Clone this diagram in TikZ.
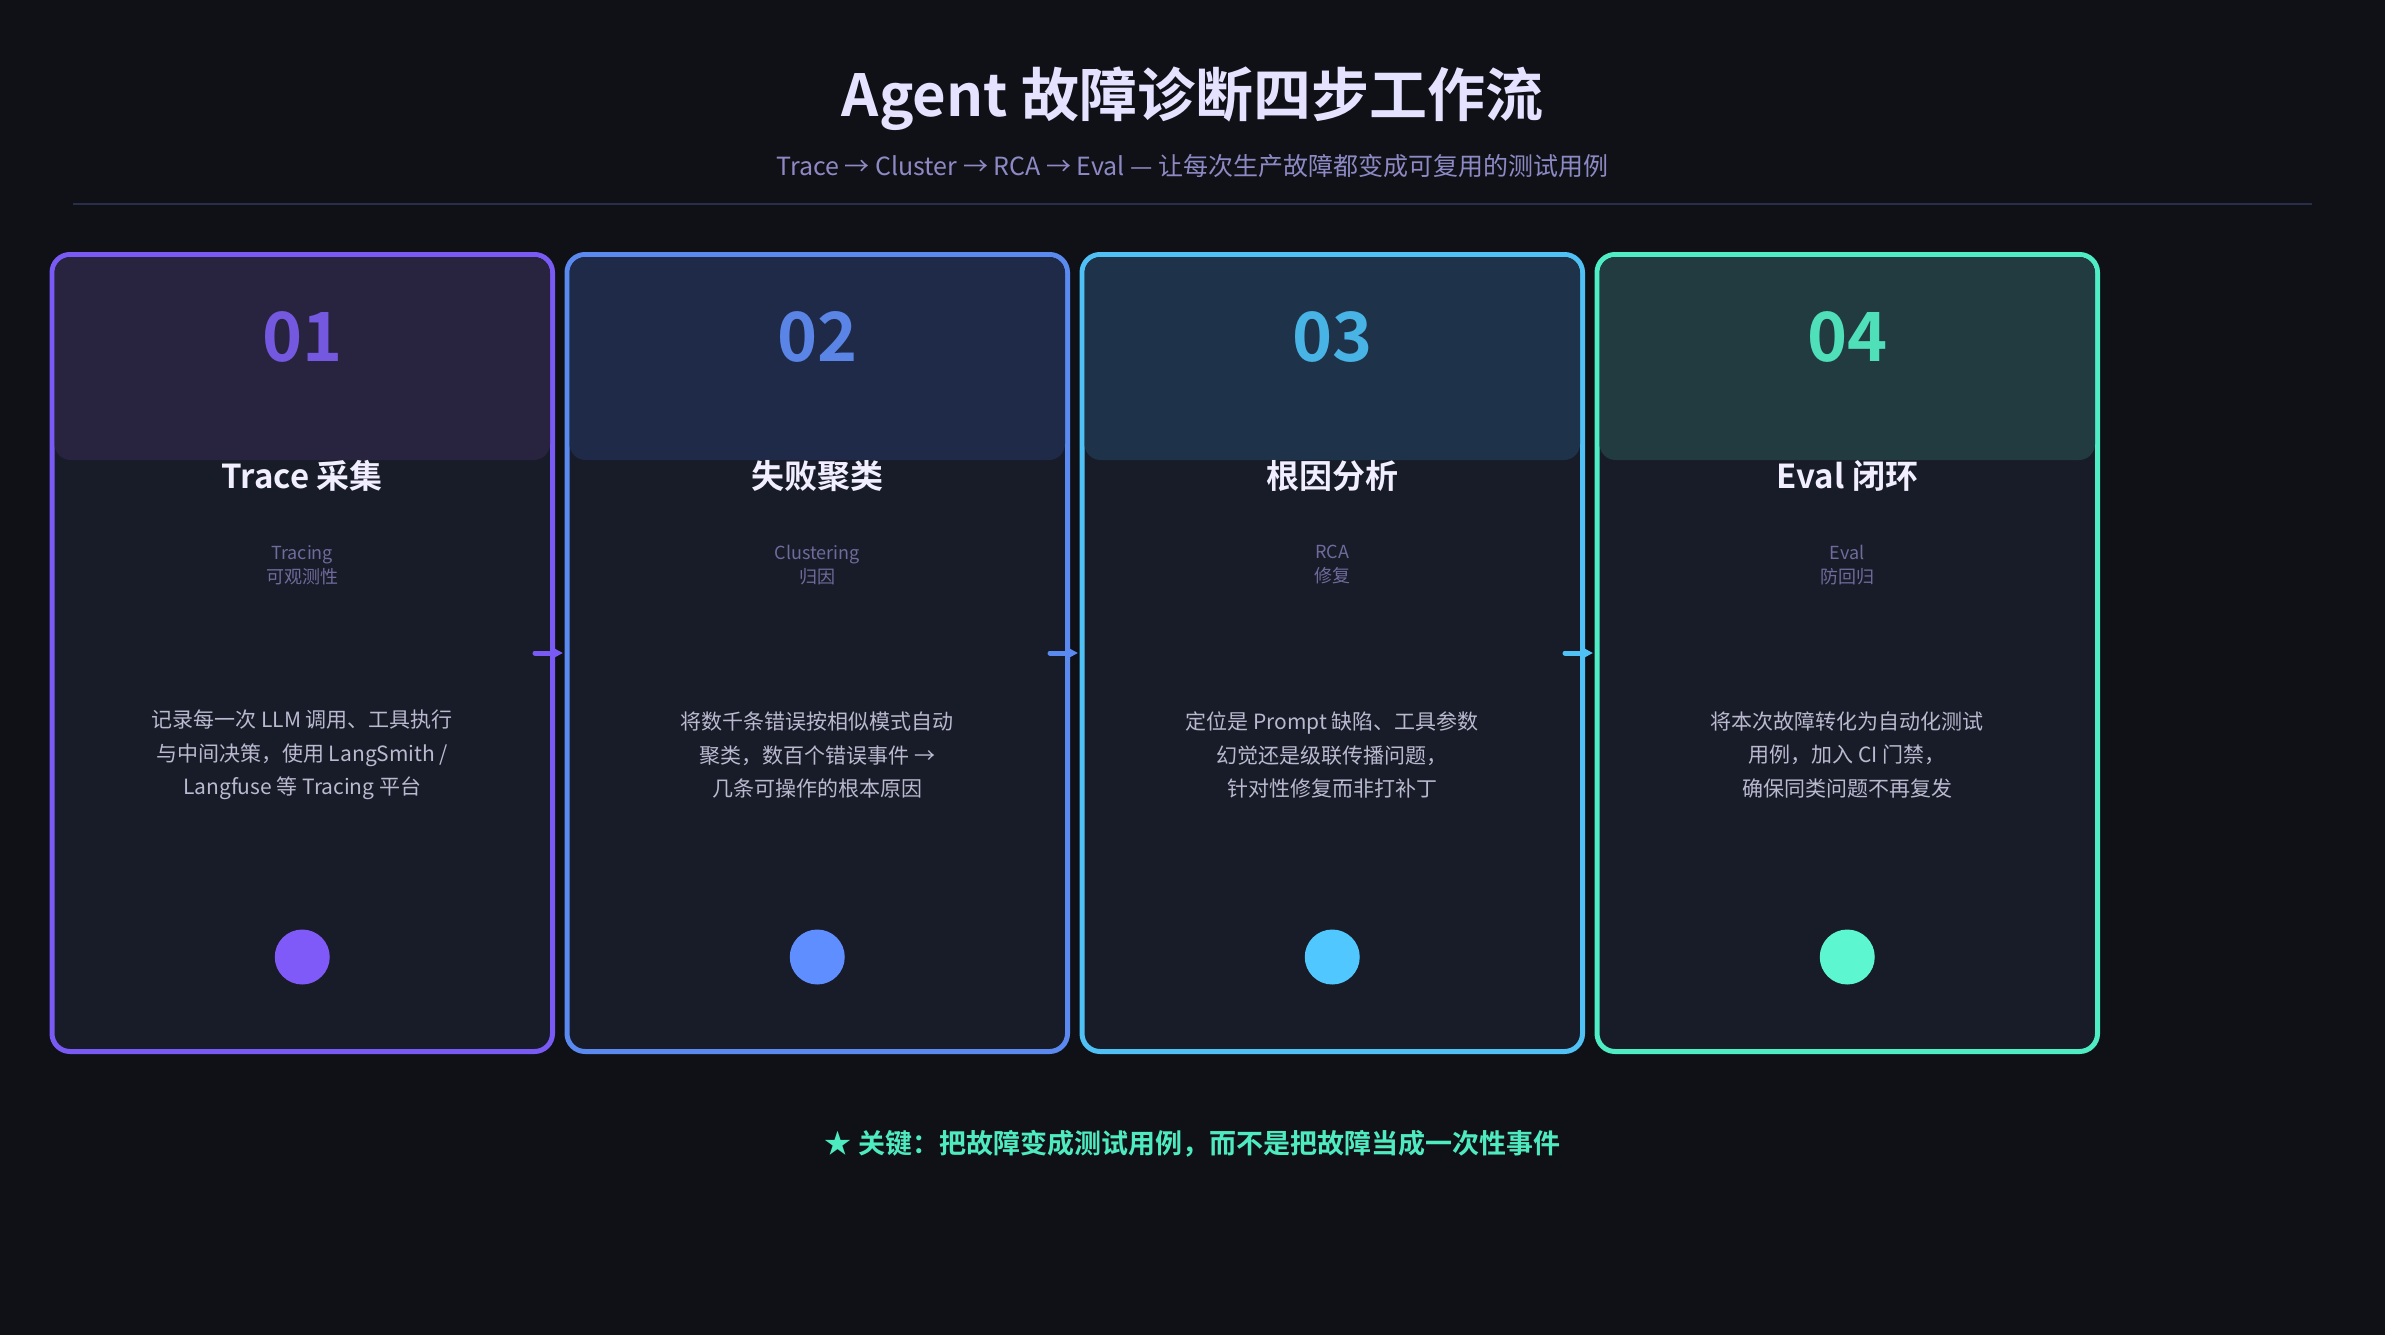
\documentclass[tikz,border=0pt]{standalone}
\usepackage{fontspec}
\setmainfont{Noto Sans CJK SC}[BoldFont={Noto Sans CJK SC Bold}]
\usetikzlibrary{arrows.meta}
\definecolor{bg}{HTML}{0F1117}
\definecolor{body}{HTML}{181B28}
\definecolor{titlec}{HTML}{E4E2FF}
\definecolor{cardtitle}{HTML}{F0EEFF}
\definecolor{subtitlec}{HTML}{8E89C4}
\definecolor{smallc}{HTML}{6F6B9C}
\definecolor{descc}{HTML}{B9B9CF}
\definecolor{rulec}{HTML}{2B2E48}
\definecolor{keyc}{HTML}{4EEBC0}
\definecolor{border1}{HTML}{7A5AF5}
\definecolor{border2}{HTML}{5A8AF0}
\definecolor{border3}{HTML}{4FC1F5}
\definecolor{border4}{HTML}{4EEDC4}
\definecolor{head1}{HTML}{28233F}
\definecolor{head2}{HTML}{1F2A48}
\definecolor{head3}{HTML}{1E3349}
\definecolor{head4}{HTML}{213B41}
\definecolor{num1}{HTML}{7458E0}
\definecolor{num2}{HTML}{5A85E6}
\definecolor{num3}{HTML}{48B4E6}
\definecolor{num4}{HTML}{4FE0BA}
\definecolor{dot1}{HTML}{7F5AF8}
\definecolor{dot2}{HTML}{5E8EFF}
\definecolor{dot3}{HTML}{50C8FF}
\definecolor{dot4}{HTML}{5CF7D0}
\tikzset{
  cardbox/.style={rectangle, rounded corners=18pt, line width=5pt, fill=body,
    minimum width=500.5pt, minimum height=797pt, inner sep=0pt},
  headbox/.style={rectangle, rounded corners=16pt, minimum width=495.5pt,
    minimum height=203pt, inner sep=0pt},
  numtext/.style={font={\fontsize{68}{76}\selectfont\bfseries}, inner sep=0pt},
  titletext/.style={font={\fontsize{33}{40}\selectfont\bfseries}, text=cardtitle, inner sep=0pt},
  subtext/.style={font={\fontsize{18}{24}\selectfont}, text=smallc, align=center, inner sep=0pt},
  desctext/.style={font={\fontsize{21}{33.6}\selectfont}, text=descc, align=center, inner sep=0pt},
  dotc/.style={circle, minimum size=55pt, inner sep=0pt},
  flowarrow/.style={line width=5pt, line cap=round, -{Triangle[length=13pt,width=13pt]}}
}
\newcommand\stepcard[7]{%
  \node[cardbox, draw=border#1] (card#1) at (#2,653) {};
  \node[headbox, fill=head#1] (head#1) at (#2,358.5) {};
  \node[numtext, text=num#1] (num#1) at (#2,337) {#3};
  \node[titletext] (title#1) at (#2,476) {#4};
  \node[subtext] (sub#1) at (#2,565) {#5};
  \node[desctext] (desc#1) at (#2,755) {#6};
  \node[dotc, fill=dot#1] (dot#1) at (#2,957) {};
}
\begin{document}
\begin{tikzpicture}[x=1pt,y=-1pt]
\useasboundingbox[fill=bg] (0,0) rectangle (2385,1335);
\node[font={\fontsize{58}{66}\selectfont\bfseries}, text=titlec, inner sep=0pt] (maintitle) at (1192.5,99) {Agent 故障诊断四步工作流};
\node[font={\fontsize{25}{32}\selectfont}, text=subtitlec, inner sep=0pt] (subtitle) at (1192.5,165.5) {Trace → Cluster → RCA → Eval — 让每次生产故障都变成可复用的测试用例};
\coordinate (ruleL) at (73,204);
\coordinate (ruleR) at (2312,204);
\draw[rulec, line width=2pt] (ruleL) -- (ruleR);
\stepcard{1}{302.25}{01}{Trace 采集}{Tracing\\可观测性}{记录每一次 LLM 调用、工具执行\\与中间决策，使用 LangSmith /\\Langfuse 等 Tracing 平台}{}
\stepcard{2}{817.25}{02}{失败聚类}{Clustering\\归因}{将数千条错误按相似模式自动\\聚类，数百个错误事件 →\\几条可操作的根本原因}{}
\stepcard{3}{1332.25}{03}{根因分析}{RCA\\修复}{定位是 Prompt 缺陷、工具参数\\幻觉还是级联传播问题，\\针对性修复而非打补丁}{}
\stepcard{4}{1847.25}{04}{Eval 闭环}{Eval\\防回归}{将本次故障转化为自动化测试\\用例，加入 CI 门禁，\\确保同类问题不再复发}{}
\draw[flowarrow, border1, shorten >=1.5pt] ([xshift=-20pt]card1.east) -- (card2.west);
\draw[flowarrow, border2, shorten >=1.5pt] ([xshift=-20pt]card2.east) -- (card3.west);
\draw[flowarrow, border3, shorten >=1.5pt] ([xshift=-20pt]card3.east) -- (card4.west);
\node[font={\fontsize{27}{32}\selectfont\bfseries}, text=keyc, inner sep=0pt] (key) at (1192.5,1144) {★ 关键：把故障变成测试用例，而不是把故障当成一次性事件};
\end{tikzpicture}
\end{document}
